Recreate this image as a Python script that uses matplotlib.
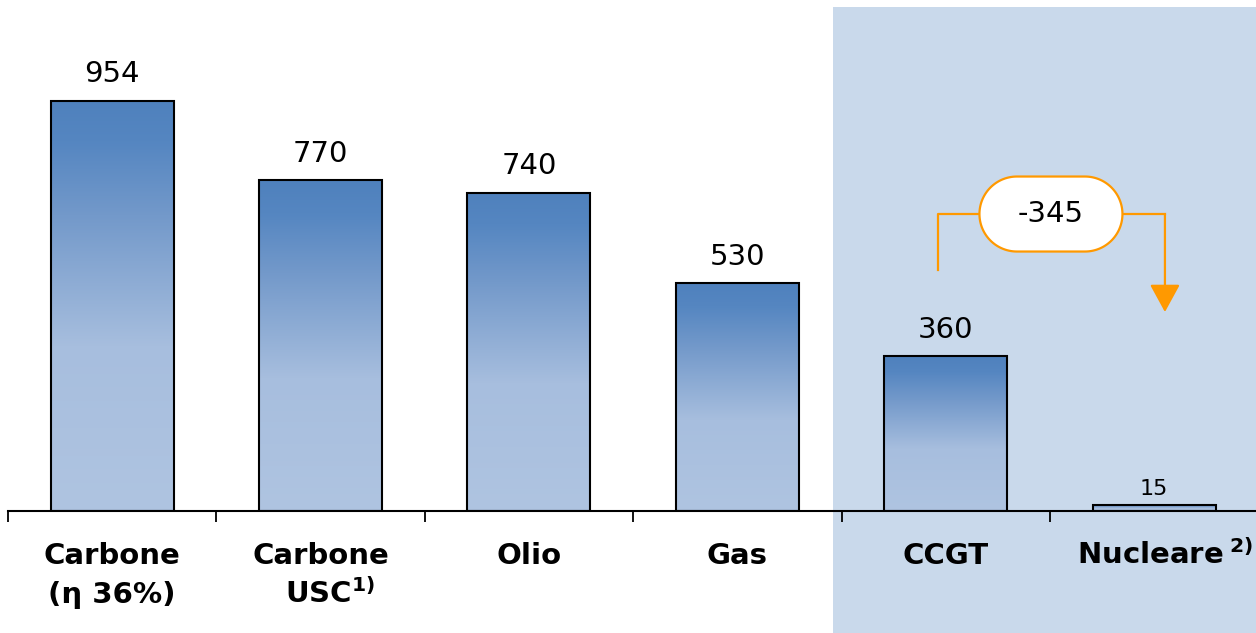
import matplotlib
matplotlib.use("Agg")
import matplotlib.pyplot as plt
import numpy as np
from matplotlib.patches import Rectangle, Polygon
from matplotlib.colors import LinearSegmentedColormap
from matplotlib.transforms import IdentityTransform

categories = [["Carbone", "(η 36%)"], ["Carbone", "  USC$^{\\mathbf{1)}}$"], ["Olio"], ["Gas"],
              ["CCGT"], ["Nucleare$^{\\mathbf{\\ 2)}}$"]]
values = [954, 770, 740, 530, 360, 15]
delta_label = "-345"

plt.rcParams["mathtext.fontset"] = "dejavusans"
W, H = 12.56, 6.33
fig = plt.figure(figsize=(W, H), dpi=100)
ax = fig.add_axes([8 / 1256, 122 / 633, 1 - 8 / 1256, 1 - 122 / 633])
ax.set_facecolor("none")
ax.set_xlim(-0.5, 5.489)
ax.set_ylim(0, 1189)

# shaded region behind last two categories
fig.add_artist(Rectangle((833 / 1256, 0), 1 - 833 / 1256, 626 / 633,
                         transform=fig.transFigure, facecolor="#C9D9EB",
                         edgecolor="none", zorder=-1))

cmap = LinearSegmentedColormap.from_list(
    "barg", [(0, "#AFC4E1"), (0.4, "#A7BEDE"), (0.72, "#7399CA"),
             (0.9, "#5586C1"), (1.0, "#4F81BD")])
grad = np.linspace(0, 1, 256).reshape(-1, 1)
bw = 0.59
x = np.arange(len(values))
for xi, v in zip(x, values):
    rect = Rectangle((xi - bw / 2, 0), bw, v, facecolor="none",
                     edgecolor="black", lw=1.5, zorder=3)
    ax.add_patch(rect)
    im = ax.imshow(grad, cmap=cmap, origin="lower", aspect="auto",
                   extent=[xi - bw / 2, xi + bw / 2, 0, v], zorder=2,
                   interpolation="bilinear")
    im.set_clip_path(rect)
    fs = 21 if v > 100 else 16
    off = 9 if v > 100 else 4
    ax.annotate(str(v), (xi, v), xytext=(0, off), textcoords="offset points",
                ha="center", va="bottom", fontsize=fs, color="black")
ax.set_xlim(-0.5, 5.489)
ax.set_ylim(0, 1189)

# axis styling
for s in ["top", "right", "left"]:
    ax.spines[s].set_visible(False)
ax.spines["bottom"].set_linewidth(1.5)
ax.set_yticks([])
ax.set_xticks(np.arange(-0.5, 5.5, 1.0))
ax.set_xticklabels([])
ax.tick_params(axis="x", direction="out", length=8, width=1.3)

# category labels (one text per line, baseline aligned)
baselines_px = [564, 603]
for xi, lines in zip(x, categories):
    for li, line in enumerate(lines):
        yb = -(baselines_px[li] - 511) / 0.4298
        if "2)" in line:
            ax.text(5.478, yb, line, ha="right", va="baseline",
                    fontsize=21, fontweight="bold", clip_on=False)
        else:
            ax.text(xi, yb, line, ha="center", va="baseline",
                    fontsize=21, fontweight="bold", clip_on=False)

# annotation bracket
orange = "#FF9900"
y_line = values[4] + 331
x_left, x_right = 3.962, 5.052
ax.plot([x_left, x_left, 4.3], [values[4] + 201, y_line, y_line],
        color=orange, lw=1.6, zorder=4, clip_on=False)
ax.plot([4.7, x_right], [y_line, y_line], color=orange, lw=1.6, zorder=4)
ax.annotate("", xy=(x_right, values[5] + 448), xytext=(x_right, y_line),
            arrowprops=dict(arrowstyle="-|>,head_length=0.86,head_width=0.47",
                            mutation_scale=20, color=orange, lw=1.6,
                            shrinkA=0, shrinkB=0), zorder=4)
cx, cy = ax.transData.transform((4.505, y_line))
pw, ph = 143, 75
r = ph / 2
t = np.linspace(-np.pi / 2, np.pi / 2, 60)
right = np.column_stack([cx + pw / 2 - r + r * np.cos(t), cy + r * np.sin(t)])
left = np.column_stack([cx - pw / 2 + r - r * np.cos(t), cy - r * np.sin(t)])
pts = np.vstack([right, left])
pill = Polygon(pts, closed=True, transform=IdentityTransform(),
               facecolor="white", edgecolor=orange, lw=1.6, zorder=5)
fig.add_artist(pill)
fig.text(cx / 1256, cy / 633, delta_label, ha="center", va="center",
         fontsize=21, color="black", zorder=6)

fig.savefig("out.png", dpi=100)
